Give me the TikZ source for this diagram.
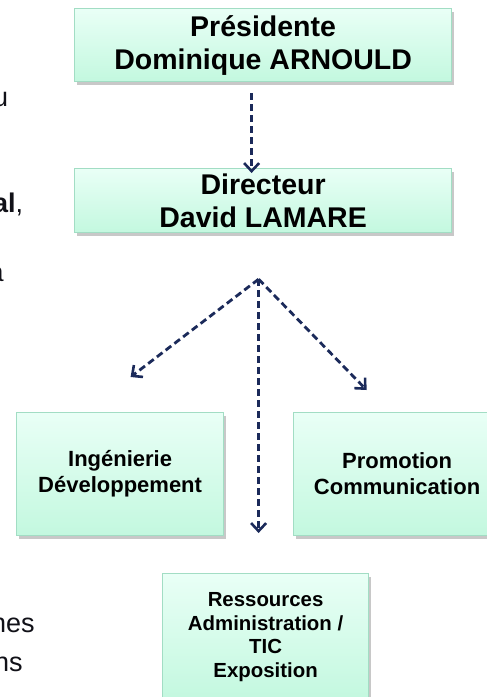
\documentclass[tikz,border=0pt]{standalone}
\usepackage{fontspec}
\setmainfont{Liberation Sans}
\usetikzlibrary{arrows.meta,shadows,calc}
\definecolor{arrowc}{HTML}{1B2A5A}
\definecolor{boxtop}{HTML}{E9FFF6}
\definecolor{boxbot}{HTML}{C3F8DF}
\definecolor{boxline}{HTML}{A2DDC4}
\definecolor{fragc}{HTML}{111118}
\begin{document}
\begin{tikzpicture}[x=1pt,y=1pt,
  box/.style={draw=boxline, line width=1.2pt, top color=boxtop, bottom color=boxbot,
    drop shadow={shadow xshift=2.5pt, shadow yshift=-3pt, opacity=0.3, fill=black!70},
    align=center, inner sep=0pt, anchor=north west, text=black},
  bigtext/.style={font=\bfseries\fontsize{28.5}{33}\selectfont},
  midtext/.style={font=\bfseries\fontsize{22}{26}\selectfont},
  smalltext/.style={font=\bfseries\fontsize{20.4}{23.5}\selectfont},
  frag/.style={anchor=base west, inner sep=0pt, text=fragc, font=\fontsize{27}{30}\selectfont},
  link/.style={draw=arrowc, line width=2.8pt, dash pattern=on 7pt off 4pt,
    -{Straight Barb[length=8pt,width=15pt,line width=2.6pt]}}]
\useasboundingbox (0,0) rectangle (487,-697);
\fill[white] (0,0) rectangle (487,-697);
\begin{scope}
\clip (0,0) rectangle (487,-697);
% left-edge text fragments
\node[frag] (fu) at (-7,-106) {u};
\node[frag] (fal) at (-7,-212) {\textbf{al},};
\node[frag] (fa) at (-11.5,-281) {a};
\node[frag] (fnes) at (-9,-632) {nes};
\node[frag] (fns) at (-6,-671) {ns};
% boxes
\node[box, bigtext, minimum width=377pt, minimum height=73pt] (pres) at (74,-8) {Présidente\\Dominique ARNOULD};
\node[box, bigtext, minimum width=377pt, minimum height=64pt] (dir) at (74,-168) {Directeur\\David LAMARE};
\node[box, midtext, minimum width=207pt, minimum height=123pt] (ing) at (16,-412) {Ingénierie\\Développement};
\node[box, midtext, minimum width=207pt, minimum height=123pt] (prom) at (293,-412) {Promotion\\Communication};
\node[box, smalltext, minimum width=206pt, minimum height=127pt] (res) at (162,-573) {Ressources\\Administration /\\TIC\\Exposition};
% connectors
\coordinate (fork) at ($(dir.south)+(-4.5,-46)$);
\draw[link] ($(pres.south)+(-11.5,-11)$) -- ($(dir.north)+(-11.5,-5)$);
\draw[link] (fork) -- ($(ing.north)+(10.5,35)$);
\draw[link] (fork) -- ($(prom.north)+(-30.5,22)$);
\draw[link] (fork) -- ($(res.north)+(-7,40)$);
\end{scope}
\end{tikzpicture}
\end{document}
